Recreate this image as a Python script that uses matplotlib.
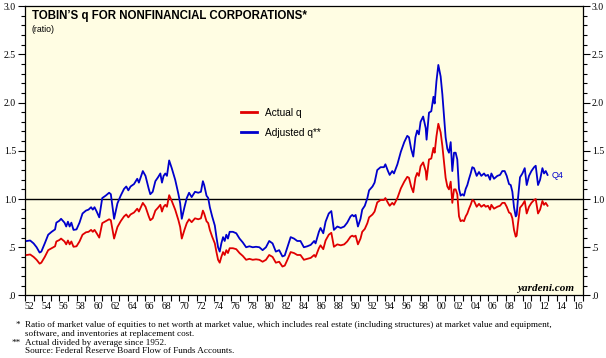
import matplotlib
matplotlib.use("Agg")
from matplotlib import pyplot as plt
from matplotlib.ticker import MultipleLocator, FixedLocator, FixedFormatter, NullFormatter

# decimal years (quarterly-ish readings)
dates = [1952.2, 1952.6, 1953.0, 1953.35, 1953.7, 1953.9, 1954.3, 1954.7, 1955.1, 1955.5,
         1955.65, 1956.0, 1956.2, 1956.6, 1956.8, 1957.0, 1957.2, 1957.4, 1957.65, 1958.0,
         1958.35, 1958.7, 1959.1, 1959.4, 1959.7, 1959.9, 1960.1, 1960.35, 1960.65, 1961.0,
         1961.4, 1961.8, 1962.0, 1962.38, 1962.77, 1963.15, 1963.54, 1963.8, 1964.04, 1964.3,
         1964.7, 1965.08, 1965.27, 1965.73, 1966.04, 1966.42, 1966.6, 1966.88, 1967.19, 1967.5,
         1967.77, 1967.96, 1968.15, 1968.35, 1968.54, 1968.8, 1969.1, 1969.5, 1969.88, 1970.08,
         1970.27, 1970.58, 1970.85, 1971.12, 1971.42, 1971.81, 1972.19, 1972.5, 1972.73, 1972.88,
         1973.15, 1973.35, 1973.54, 1973.81, 1974.12, 1974.31, 1974.5, 1974.69, 1974.88, 1975.08,
         1975.27, 1975.46, 1975.65, 1975.85, 1976.23, 1976.62, 1977.0, 1977.38, 1977.77, 1978.15,
         1978.54, 1978.92, 1979.31, 1979.69, 1980.08, 1980.46, 1980.85, 1981.23, 1981.62, 1982.0,
         1982.27, 1982.58, 1982.96, 1983.35, 1983.73, 1984.1, 1984.5, 1984.9, 1985.3, 1985.7,
         1985.86, 1986.25, 1986.44, 1986.76, 1987.03, 1987.4, 1987.7, 1988.0, 1988.4, 1988.8,
         1989.2, 1989.55, 1989.94, 1990.14, 1990.33, 1990.53, 1990.8, 1991.1, 1991.3, 1991.6,
         1991.9, 1992.1, 1992.5, 1992.74, 1993.05, 1993.44, 1993.83, 1994.0, 1994.3, 1994.5,
         1994.8, 1995.0, 1995.4, 1995.8, 1996.2, 1996.55, 1996.75, 1997.0, 1997.25, 1997.5,
         1997.7, 1997.9, 1998.1, 1998.4, 1998.7, 1998.8, 1999.08, 1999.35, 1999.6, 1999.74,
         1999.95, 2000.17, 2000.44, 2000.64, 2000.83, 2001.02, 2001.22, 2001.41, 2001.61, 2001.8,
         2002.0, 2002.19, 2002.38, 2002.58, 2002.77, 2002.97, 2003.16, 2003.36, 2003.55, 2003.75,
         2003.94, 2004.13, 2004.33, 2004.64, 2004.91, 2005.18, 2005.5, 2005.69, 2005.96, 2006.2,
         2006.35, 2006.66, 2007.05, 2007.36, 2007.63, 2007.9, 2008.14, 2008.41, 2008.61, 2008.8,
         2008.99, 2009.19, 2009.3, 2009.46, 2009.69, 2009.97, 2010.24, 2010.47, 2010.74, 2011.02,
         2011.33, 2011.52, 2011.79, 2012.03, 2012.3, 2012.49, 2012.69, 2012.9]

actual_q = [0.42, 0.425, 0.40, 0.37, 0.33, 0.34, 0.40, 0.47, 0.49, 0.51,
            0.56, 0.575, 0.59, 0.56, 0.53, 0.57, 0.53, 0.56, 0.505, 0.51,
            0.56, 0.63, 0.655, 0.66, 0.68, 0.66, 0.68, 0.645, 0.60, 0.75,
            0.77, 0.79, 0.78, 0.59, 0.71, 0.77, 0.82, 0.84, 0.81, 0.84,
            0.86, 0.90, 0.87, 0.96, 0.92, 0.82, 0.78, 0.80, 0.88, 0.91,
            0.94, 0.87, 0.92, 0.94, 0.92, 1.04, 0.98, 0.89, 0.78, 0.71,
            0.59, 0.68, 0.75, 0.79, 0.76, 0.80, 0.79, 0.80, 0.88, 0.85,
            0.77, 0.75, 0.68, 0.61, 0.54, 0.45, 0.37, 0.34, 0.40, 0.45,
            0.42, 0.47, 0.44, 0.49, 0.49, 0.48, 0.44, 0.41, 0.37, 0.38,
            0.37, 0.375, 0.37, 0.35, 0.37, 0.42, 0.40, 0.34, 0.35, 0.30,
            0.31, 0.37, 0.45, 0.44, 0.42, 0.42, 0.37, 0.38, 0.39, 0.42,
            0.40, 0.49, 0.52, 0.48, 0.57, 0.63, 0.65, 0.505, 0.53, 0.52,
            0.53, 0.56, 0.61, 0.62, 0.61, 0.62, 0.53, 0.59, 0.66, 0.69,
            0.75, 0.81, 0.84, 0.87, 0.965, 0.99, 0.99, 1.01, 0.96, 0.93,
            0.96, 0.94, 1.01, 1.11, 1.18, 1.23, 1.22, 1.13, 1.07, 1.22,
            1.27, 1.24, 1.34, 1.38, 1.29, 1.20, 1.41, 1.42, 1.53, 1.48,
            1.65, 1.78, 1.69, 1.55, 1.38, 1.22, 1.13, 1.10, 1.18, 0.96,
            1.10, 1.10, 1.05, 0.82, 0.77, 0.78, 0.77, 0.82, 0.85, 0.90,
            0.94, 0.99, 0.98, 0.92, 0.95, 0.92, 0.94, 0.92, 0.93, 0.89,
            0.94, 0.90, 0.92, 0.93, 0.96, 0.96, 0.92, 0.86, 0.85, 0.80,
            0.68, 0.61, 0.62, 0.75, 0.91, 0.94, 0.98, 0.85, 0.92, 0.96,
            0.99, 1.00, 0.85, 0.89, 0.98, 0.94, 0.96, 0.93]

adjusted_q = [0.565, 0.57, 0.54, 0.50, 0.445, 0.455, 0.54, 0.63, 0.66, 0.685,
              0.755, 0.775, 0.795, 0.755, 0.715, 0.765, 0.715, 0.755, 0.68, 0.685,
              0.755, 0.85, 0.88, 0.89, 0.915, 0.89, 0.915, 0.87, 0.81, 1.01,
              1.035, 1.065, 1.05, 0.795, 0.955, 1.035, 1.105, 1.13, 1.09, 1.13,
              1.155, 1.21, 1.17, 1.29, 1.24, 1.105, 1.05, 1.075, 1.185, 1.225,
              1.265, 1.17, 1.24, 1.265, 1.24, 1.40, 1.32, 1.20, 1.05, 0.955,
              0.795, 0.915, 1.01, 1.065, 1.02, 1.075, 1.065, 1.075, 1.185, 1.145,
              1.035, 1.01, 0.915, 0.82, 0.725, 0.605, 0.50, 0.455, 0.54, 0.605,
              0.565, 0.63, 0.59, 0.66, 0.66, 0.645, 0.59, 0.55, 0.50, 0.51,
              0.50, 0.505, 0.50, 0.47, 0.50, 0.565, 0.54, 0.455, 0.47, 0.405,
              0.415, 0.50, 0.605, 0.59, 0.565, 0.565, 0.50, 0.51, 0.525, 0.565,
              0.54, 0.66, 0.70, 0.645, 0.765, 0.85, 0.875, 0.68, 0.715, 0.70,
              0.715, 0.755, 0.82, 0.835, 0.82, 0.835, 0.715, 0.795, 0.89, 0.93,
              1.01, 1.09, 1.13, 1.17, 1.30, 1.33, 1.33, 1.36, 1.29, 1.25,
              1.29, 1.265, 1.36, 1.49, 1.59, 1.655, 1.64, 1.52, 1.44, 1.64,
              1.71, 1.67, 1.80, 1.855, 1.735, 1.615, 1.895, 1.91, 2.06, 1.99,
              2.22, 2.39, 2.27, 2.085, 1.855, 1.64, 1.52, 1.48, 1.59, 1.29,
              1.48, 1.48, 1.41, 1.105, 1.035, 1.05, 1.035, 1.105, 1.145, 1.21,
              1.265, 1.33, 1.32, 1.24, 1.28, 1.24, 1.265, 1.24, 1.25, 1.20,
              1.265, 1.21, 1.24, 1.25, 1.29, 1.29, 1.24, 1.155, 1.145, 1.075,
              0.915, 0.82, 0.835, 1.01, 1.225, 1.265, 1.32, 1.145, 1.24, 1.29,
              1.33, 1.345, 1.145, 1.20, 1.32, 1.265, 1.29, 1.25]

year_labels = ["52", "54", "56", "58", "60", "62", "64", "66", "68", "70", "72", "74",
               "76", "78", "80", "82", "84", "86", "88", "90", "92", "94", "96", "98",
               "00", "02", "04", "06", "08", "10", "12", "14", "16"]
y_ticks = [0.0, 0.5, 1.0, 1.5, 2.0, 2.5, 3.0]
y_labels = [".0", ".5", "1.0", "1.5", "2.0", "2.5", "3.0"]

serif = "Liberation Serif"
sans = "Liberation Sans"

fig = plt.figure(figsize=(6.06, 3.58), dpi=100)
ax = fig.add_axes([0.0413, 0.1746, 0.9203, 0.8084])
ax.set_facecolor("#fffde3")

ax.axhline(1.0, color="black", lw=1.0, zorder=1)
ax.plot(dates, adjusted_q, color="#0000cc", lw=1.3, zorder=3, label="Adjusted q**")
ax.plot(dates, actual_q, color="#e00000", lw=1.3, zorder=3, label="Actual q")

ax.set_xlim(1952, 2017)
ax.set_ylim(0, 3.0)

# y axis: labels on both sides
ax.yaxis.set_major_locator(FixedLocator(y_ticks))
ax.yaxis.set_major_formatter(FixedFormatter(y_labels))
ax.yaxis.set_minor_locator(MultipleLocator(0.1))
ax.tick_params(axis="y", which="major", direction="out", length=5, width=0.8,
               left=True, right=True, labelleft=True, labelright=True,
               labelsize=7, pad=1.5)
ax.tick_params(axis="y", which="minor", direction="out", length=3, width=0.8,
               left=True, right=True)

# x axis: ticks at year boundaries, labels centred mid-year
ax.xaxis.set_major_locator(FixedLocator(list(range(1952, 2018))))
ax.xaxis.set_major_formatter(NullFormatter())
ax.xaxis.set_minor_locator(FixedLocator([1952.5 + 2 * i for i in range(len(year_labels))]))
ax.xaxis.set_minor_formatter(FixedFormatter(year_labels))
ax.tick_params(axis="x", which="major", direction="out", length=4, width=0.8)
ax.tick_params(axis="x", which="minor", length=0, labelsize=7, pad=4.5)

for t in ax.yaxis.get_major_ticks():
    t.label1.set_fontfamily(serif)
    t.label2.set_fontfamily(serif)
for t in ax.xaxis.get_minor_ticks():
    t.label1.set_fontfamily(serif)

for s in ax.spines.values():
    s.set_linewidth(0.9)

ax.text(0.012, 0.985, "TOBIN\u2019S q FOR NONFINANCIAL CORPORATIONS*", transform=ax.transAxes,
        fontsize=8.3, fontweight="bold", family=sans, va="top")
ax.text(0.012, 0.935, "(ratio)", transform=ax.transAxes, fontsize=6.3, family=sans, va="top")

handles, labels = ax.get_legend_handles_labels()
leg = ax.legend(handles[::-1], labels[::-1], loc="upper left", bbox_to_anchor=(0.37, 0.68),
                frameon=False, prop={"family": sans, "size": 7.3}, handlelength=1.6,
                labelspacing=1.0, handletextpad=0.8)
for line in leg.get_lines():
    line.set_linewidth(2.0)

ax.text(2013.4, 1.24, "Q4", color="#0000cc", fontsize=6.5, family=sans, va="center")
ax.text(0.985, 0.008, "yardeni.com", transform=ax.transAxes, ha="right", va="bottom",
        fontsize=8, family=serif, style="italic", fontweight="bold")

fn = {"family": serif, "fontsize": 6.6, "va": "top"}
fig.text(0.026, 0.103, "*", **fn)
fig.text(0.042, 0.103, "Ratio of market value of equities to net worth at market value, which includes real estate "
         "(including structures) at market value and equipment,", **fn)
fig.text(0.042, 0.079, "software, and inventories at replacement cost.", **fn)
fig.text(0.019, 0.054, "**", **fn)
fig.text(0.042, 0.054, "Actual divided by average since 1952.", **fn)
fig.text(0.042, 0.030, "Source: Federal Reserve Board Flow of Funds Accounts.", **fn)

fig.savefig("out.png", dpi=100)
